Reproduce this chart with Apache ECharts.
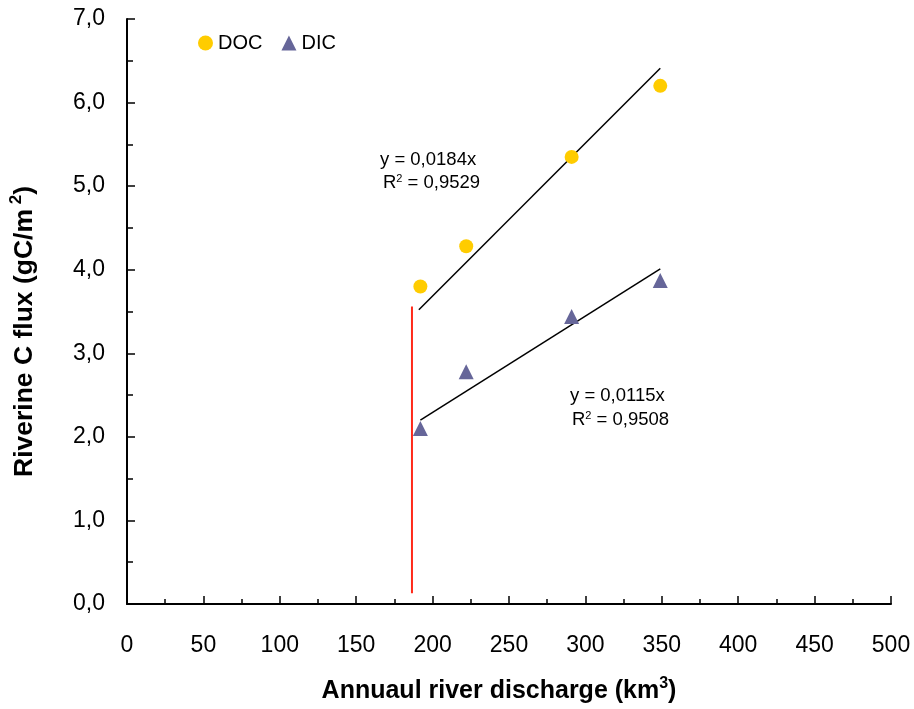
<!DOCTYPE html>
<html>
<head>
<meta charset="utf-8">
<script src="https://cdn.jsdelivr.net/npm/echarts@6/dist/echarts.min.js"></script>
<style>
html,body{margin:0;padding:0;background:#fff;}
#chart{width:914px;height:709px;}
</style>
</head>
<body>
<div id="chart"></div>
<script>
// ---- data ----
const discharge = [192, 222, 291, 349];
const docFlux = [3.80, 4.28, 5.35, 6.20];
const dicFlux = [2.10, 2.78, 3.44, 3.87];
const docTrendX = [191, 349];
const docTrendY = [3.52, 6.41];
const dicTrendX = [192, 349];
const dicTrendY = [2.20, 4.01];
const refLineX = [186.5, 186.5];
const refLineY = [0.13, 3.56];
const docEquation = ['y = 0,0184x', '0,9529'];
const dicEquation = ['y = 0,0115x', '0,9508'];

const pairs = (xs, ys) => xs.map((x, i) => [x, ys[i]]);
const FONT = '"Liberation Sans", Arial, sans-serif';

const chart = echarts.init(document.getElementById('chart'));
const eqRich = {
  a: {fontFamily: FONT, fontSize: 18.5, color: '#000'},
  s: {fontFamily: FONT, fontSize: 11, color: '#000', verticalAlign: 'top', padding: [0, 0, 6, 0]}
};
chart.setOption({
  animation: false,
  backgroundColor: '#fff',
  grid: {left: 127, right: 23, top: 19, bottom: 105},
  legend: {
    left: 193, top: 28,
    itemWidth: 15, itemHeight: 15, itemGap: 19,
    textStyle: {fontFamily: FONT, fontSize: 20, color: '#000'},
    data: [{name: 'DOC', icon: 'circle'}, {name: 'DIC', icon: 'triangle'}]
  },
  xAxis: {
    type: 'value', min: 0, max: 500, interval: 50,
    axisLine: {lineStyle: {color: '#000', width: 2}},
    axisTick: {inside: true, length: 8, lineStyle: {color: '#000', width: 1.5}},
    minorTick: {show: true, splitNumber: 2, length: 5, lineStyle: {color: '#000', width: 1.5}},
    splitLine: {show: false},
    axisLabel: {fontFamily: FONT, fontSize: 23, color: '#000', margin: 30},
    name: '{t|Annuaul river discharge (km}{s|3}{t|)}',
    nameLocation: 'middle', nameGap: 72,
    nameTextStyle: {
      padding: [0, 20, 0, 0],
      rich: {
        t: {fontFamily: FONT, fontSize: 25, fontWeight: 'bold', color: '#000'},
        s: {fontFamily: FONT, fontSize: 16, fontWeight: 'bold', color: '#000', verticalAlign: 'top', padding: [0, 0, 14, 0]}
      }
    }
  },
  yAxis: {
    type: 'value', min: 0, max: 7, interval: 1,
    axisLine: {lineStyle: {color: '#000', width: 2}},
    axisTick: {inside: true, length: 8, lineStyle: {color: '#000', width: 1.5}},
    minorTick: {show: true, splitNumber: 2, length: 6, lineStyle: {color: '#000', width: 1.5}},
    splitLine: {show: false},
    axisLabel: {fontFamily: FONT, fontSize: 23, color: '#000', margin: 22,
      formatter: v => v.toFixed(1).replace('.', ',')},
    name: '{t|Riverine C flux (gC/m}{s| 2}{t|)}',
    nameLocation: 'middle', nameGap: 86, nameRotate: 90,
    nameTextStyle: {
      padding: [0, 40, 0, 0],
      rich: {
        t: {fontFamily: FONT, fontSize: 26.5, fontWeight: 'bold', color: '#000'},
        s: {fontFamily: FONT, fontSize: 17, fontWeight: 'bold', color: '#000', verticalAlign: 'top', padding: [0, 0, 16, 0]}
      }
    }
  },
  series: [
    {
      name: 'DOC', type: 'scatter', symbol: 'circle', symbolSize: 14,
      itemStyle: {color: '#FFCC00', opacity: 1}, data: pairs(discharge, docFlux), z: 3
    },
    {
      name: 'DIC', type: 'scatter', symbol: 'triangle', symbolSize: 15,
      itemStyle: {color: '#666699', opacity: 1}, data: pairs(discharge, dicFlux), z: 3
    },
    {
      name: 'DOC trend', type: 'line', symbol: 'none', silent: true,
      lineStyle: {color: '#000', width: 1.5}, data: pairs(docTrendX, docTrendY), z: 2
    },
    {
      name: 'DIC trend', type: 'line', symbol: 'none', silent: true,
      lineStyle: {color: '#000', width: 1.5}, data: pairs(dicTrendX, dicTrendY), z: 2
    },
    {
      name: 'ref', type: 'line', symbol: 'none', silent: true,
      lineStyle: {color: '#FF2A1A', width: 2}, data: pairs(refLineX, refLineY), z: 2
    }
  ],
  graphic: [
    {type: 'text', left: 380, top: 150, style: {text: '{a|' + docEquation[0] + '}', rich: eqRich}},
    {type: 'text', left: 383, top: 173, style: {text: '{a|R}{s|2}{a| = ' + docEquation[1] + '}', rich: eqRich}},
    {type: 'text', left: 570, top: 386, style: {text: '{a|' + dicEquation[0] + '}', rich: eqRich}},
    {type: 'text', left: 572, top: 410, style: {text: '{a|R}{s|2}{a| = ' + dicEquation[1] + '}', rich: eqRich}}
  ]
});
</script>
</body>
</html>
